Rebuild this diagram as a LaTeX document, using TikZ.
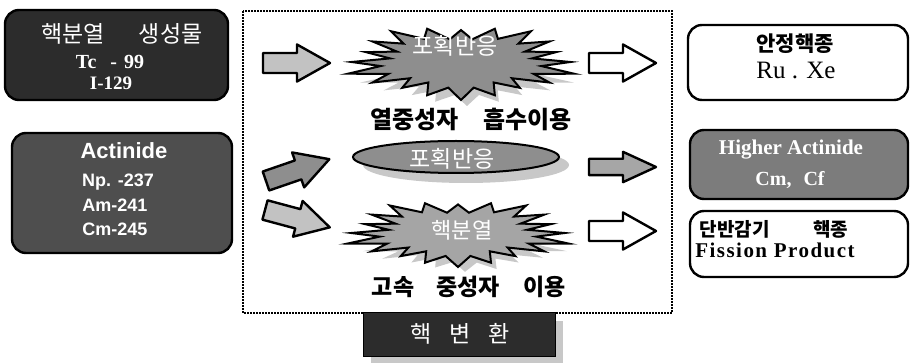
\documentclass[tikz,border=0pt]{standalone}
\usepackage{fontspec}
\setmainfont{Liberation Serif}
\setsansfont{Liberation Sans}
\newfontfamily\kr{Noto Sans CJK KR}
\usetikzlibrary{shapes.geometric}
\definecolor{boxA}{HTML}{2C2C2C}
\definecolor{boxB}{HTML}{4E4E4E}
\definecolor{boxC}{HTML}{7C7C7C}
\definecolor{lightg}{HTML}{C2C2C2}
\definecolor{midg}{HTML}{8E8E8E}
\definecolor{shadowg}{HTML}{C8C8C8}
\tikzset{
  declare function={bf(\t)=(0.7+0.3*(1-mod(round(\t/9),2)))*(0.92+0.08*sin(5*\t));},
  blockarrow/.pic={\path[pic actions] (0,-10) -- (34,-10) -- (34,-18.5) -- (67,0) -- (34,18.5) -- (34,10) -- (0,10) -- cycle;},
  arrowbody/.style={draw=black, line width=2.4pt, line join=round},
  roundbox/.style={draw=black, line width=2.4pt, rounded corners=14pt, inner sep=0pt},
  krtext/.style={font=\kr\fontsize{#1}{#1}\selectfont, inner sep=0pt},
  burstline/.style={draw=black, line width=2pt, line join=miter},
  lbl/.style={inner sep=0pt}
}
\begin{document}
\begin{tikzpicture}[x=1pt,y=-1pt]
\useasboundingbox (0,0) rectangle (911,363);
\fill[white] (0,0) rectangle (911,363);

% left boxes
\node[roundbox, fill=boxA, minimum width=223pt, minimum height=90pt] (fp) at (116.5,55) {};
\node[krtext=23, text=white] (fpt) at (122,34) {핵분열\hspace{34pt}생성물};
\node[lbl, text=white, font=\bfseries\fontsize{20}{20}\selectfont] (tc) at (110,62) {Tc\hspace{14pt}-\hspace{7pt}99};
\node[lbl, text=white, font=\bfseries\fontsize{19}{19}\selectfont] (iod) at (111,83) {I-129};

\node[roundbox, fill=boxB, minimum width=220pt, minimum height=120pt] (act) at (122,193) {};
\node[lbl, text=white, font=\sffamily\bfseries\fontsize{22}{22}\selectfont] (actt) at (124,151) {Actinide};
\node[lbl, text=white, font=\sffamily\bfseries\fontsize{18}{18}\selectfont] (np) at (118,182) {Np. -237};
\node[lbl, text=white, font=\sffamily\bfseries\fontsize{18}{18}\selectfont] (am) at (115,205) {Am-241};
\node[lbl, text=white, font=\sffamily\bfseries\fontsize{18}{18}\selectfont] (cm) at (115,229) {Cm-245};

% dotted frame
\draw[black, line width=2pt, densely dotted] (243,11) rectangle (672,313);

% transmutation label box
\fill[shadowg] (371,321) rectangle (563,363);
\node[draw=black, line width=1pt, fill=boxA, minimum width=192pt, minimum height=44pt, inner sep=0pt] (tr) at (459,335) {};
\node[krtext=23, text=white] (trt) at (460,334) {핵\hspace{18pt}변\hspace{18pt}환};

% top starburst
\fill[shadowg] plot[variable=\t, samples=40, domain=0:351] ({467+112*bf(\t)*cos(\t)},{72+34*bf(\t)*sin(\t)}) -- cycle;
\filldraw[burstline, fill=midg] plot[variable=\t, samples=40, domain=0:351] ({461+119*bf(\t)*cos(\t)},{62+38*bf(\t)*sin(\t)}) -- cycle;
\node[krtext=23, text=white] (sb1t) at (455,46) {포획반응};
\node[krtext=24, font=\kr\bfseries\fontsize{24}{24}\selectfont] (cap1) at (471,119) {열중성자\hspace{24pt}흡수이용};

% ellipse
\node[ellipse, fill=shadowg, minimum width=206pt, minimum height=36pt, inner sep=0pt] (els) at (466,165) {};
\node[ellipse, draw=black, line width=2pt, fill=midg, minimum width=206pt, minimum height=32pt, inner sep=0pt] (el) at (456,157) {};
\node[krtext=23, text=white] (elt) at (452,159) {포획반응};

% bottom starburst
\fill[shadowg] plot[variable=\t, samples=40, domain=0:351] ({465+108*bf(\t+4)*cos(\t)},{242+30*bf(\t+4)*sin(\t)}) -- cycle;
\filldraw[burstline, fill=lightg!85!black] plot[variable=\t, samples=40, domain=0:351] ({458+116*bf(\t)*cos(\t)},{233+34*bf(\t)*sin(\t)}) -- cycle;
\node[krtext=22, text=white] (sb2t) at (462,230) {핵분열};
\node[krtext=23, font=\kr\bfseries\fontsize{23}{23}\selectfont] (cap2) at (469,287) {고속\hspace{22pt}중성자\hspace{24pt}이용};

% arrows
\pic[arrowbody, fill=lightg] at (263,63) {blockarrow};
\pic[arrowbody, fill=midg, rotate=19] at (266,181) {blockarrow};
\pic[arrowbody, fill=lightg, rotate=-15] at (265,210) {blockarrow};
\pic[arrowbody, fill=white] at (589,63) {blockarrow};
\pic[arrowbody, fill=gray!70, yscale=0.82] at (589,167) {blockarrow};
\pic[arrowbody, fill=white] at (589,231) {blockarrow};

% right boxes
\node[roundbox, fill=white, minimum width=220pt, minimum height=75pt] (st) at (798,62.5) {};
\node[krtext=21, font=\kr\bfseries\fontsize{21}{21}\selectfont] (stt) at (795,44) {안정핵종};
\node[lbl, font=\fontsize{25}{25}\selectfont] (ruxe) at (796,70) {Ru . Xe};

\node[roundbox, fill=boxC, minimum width=218pt, minimum height=69pt] (ha) at (799,164.5) {};
\node[lbl, text=white, font=\bfseries\fontsize{21}{21}\selectfont] (hat) at (791,150) {Higher Actinide};
\node[lbl, text=white, font=\bfseries\fontsize{20}{20}\selectfont] (cmcf) at (790,180) {Cm,\hspace{12pt}Cf};

\node[roundbox, fill=white, minimum width=218pt, minimum height=66pt] (ff) at (799,244) {};
\node[krtext=18, font=\kr\bfseries\fontsize{19}{19}\selectfont] (fft) at (774,229) {단반감기\hspace{44pt}핵종};
\node[lbl, font=\bfseries\fontsize{21}{21}\selectfont\addfontfeature{LetterSpace=7}] (fpr) at (775,250) {Fission Product};
\end{tikzpicture}
\end{document}
